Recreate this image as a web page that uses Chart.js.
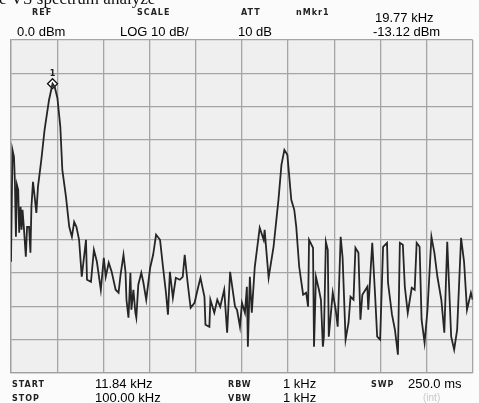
<!DOCTYPE html>
<html>
<head>
<meta charset="utf-8">
<script src="https://cdn.jsdelivr.net/npm/chart.js@4/dist/chart.umd.min.js"></script>
<style>
  html, body { margin: 0; padding: 0; background: #fbfbfb; overflow: hidden; }
  #wrap { position: relative; width: 479px; height: 403px; }
</style>
</head>
<body>
<div id="wrap"><canvas id="c" width="479" height="403"></canvas></div>
<script>
// Sweep settings
const startKHz = 11.84;
const stopKHz = 100.00;
const refDbm = 0;
const dbPerDiv = 10;
const divisions = 10;
const markerFreq = 19.77;
const markerLevel = -13.12;

// Trace: frequency (kHz) and level (dBm)
const freqKHz = [
  11.84, 12.12, 12.41, 12.59, 12.78, 12.97, 13.22, 13.40, 13.67, 13.86,
  14.04, 14.29, 14.67, 14.91, 15.29, 15.55, 15.74, 16.04, 16.36, 16.68,
  16.99, 17.63, 18.25, 19.10, 19.77, 20.19, 20.70, 21.26, 21.64, 22.34,
  22.96, 23.47, 23.90, 24.33, 24.84, 25.35, 26.16, 26.35, 27.11, 27.67,
  28.24, 28.99, 29.56, 29.93, 30.50, 31.06, 31.82, 32.38, 32.76, 33.32,
  33.70, 33.89, 34.27, 34.64, 34.83, 35.21, 35.59, 35.77, 36.15, 36.72,
  37.09, 37.66, 38.41, 38.98, 39.54, 40.30, 40.86, 41.43, 41.81, 42.18,
  42.75, 43.31, 44.07, 44.63, 45.01, 45.57, 45.95, 46.14, 46.89, 47.46,
  48.02, 48.78, 48.97, 49.72, 49.91, 50.66, 51.23, 51.79, 52.55, 53.11,
  53.68, 54.43, 54.62, 55.00, 55.56, 55.94, 56.51, 56.88, 57.07, 57.45,
  57.82, 58.39, 59.33, 60.09, 60.27, 61.03, 61.97, 62.91, 63.48, 64.04,
  64.61, 65.36, 65.93, 66.31, 66.87, 67.62, 68.19, 68.57, 68.75, 69.51,
  69.70, 70.07, 70.64, 71.02, 71.39, 71.58, 71.96, 72.33, 72.52, 73.28,
  73.84, 74.22, 74.79, 75.16, 75.73, 76.29, 76.67, 77.24, 77.61, 78.18,
  78.56, 78.93, 79.88, 80.06, 80.82, 81.38, 81.76, 82.32, 82.89, 83.64,
  83.83, 84.59, 85.15, 85.72, 86.09, 86.66, 87.04, 87.60, 88.36, 88.92,
  89.30, 89.86, 90.24, 90.81, 91.37, 92.12, 92.69, 93.26, 94.01, 94.58,
  95.14, 95.89, 96.46, 97.03, 97.78, 98.35, 98.91, 99.66, 100.00
];
const levelDbm = [
  -66.6, -33.0, -35.1, -42.9, -59.1, -43.5, -45.0, -57.9, -50.1, -57.0,
  -51.0, -56.1, -65.1, -56.1, -56.1, -63.9, -50.1, -42.6, -47.1, -51.9,
  -44.1, -36.0, -27.0, -18.0, -13.12, -14.1, -17.4, -26.1, -39.0, -47.1,
  -56.1, -59.1, -54.6, -56.1, -60.0, -71.1, -60.0, -72.0, -72.6, -63.0,
  -66.6, -75.0, -65.4, -71.1, -66.9, -69.6, -75.0, -75.9, -70.5, -64.5,
  -69.6, -78.0, -83.4, -69.9, -81.0, -75.0, -81.9, -83.4, -73.5, -69.9,
  -72.6, -78.0, -68.4, -64.5, -58.5, -60.0, -68.1, -75.9, -82.5, -69.6,
  -77.4, -71.4, -72.0, -71.1, -64.5, -72.9, -78.0, -80.4, -78.9, -75.0,
  -71.4, -77.1, -85.5, -86.1, -78.0, -81.9, -78.0, -80.1, -75.0, -87.9,
  -69.6, -78.0, -80.1, -81.0, -86.1, -78.9, -81.9, -74.1, -92.1, -71.1,
  -81.9, -68.1, -56.4, -60.0, -57.0, -71.4, -62.1, -48.0, -37.5, -33.0,
  -34.5, -48.0, -51.0, -56.1, -68.1, -76.5, -75.9, -80.1, -60.0, -62.4,
  -92.1, -71.1, -75.0, -78.0, -92.1, -89.1, -60.6, -63.0, -89.1, -75.9,
  -81.0, -86.1, -59.1, -65.4, -90.0, -84.9, -77.1, -78.0, -62.4, -63.9,
  -84.0, -76.5, -74.1, -81.0, -60.9, -77.1, -89.1, -90.0, -62.1, -60.9,
  -72.9, -82.5, -87.0, -94.5, -60.9, -61.5, -74.1, -81.9, -74.4, -75.0,
  -60.9, -62.1, -84.0, -90.9, -81.0, -59.1, -63.9, -71.1, -78.0, -87.9,
  -60.6, -89.1, -93.0, -87.0, -59.4, -66.6, -81.0, -75.9, -78.0
];

const fmtKHz = v => v.toFixed(2) + ' kHz';

// Annotation rows above and below the graticule
const headerLabels = [
  { text: 'REF', x: 32, y: 15 },
  { text: 'SCALE', x: 137, y: 15 },
  { text: 'ATT', x: 241, y: 15 },
  { text: 'nMkr1', x: 296, y: 15 }
];
const headerValues = [
  { text: refDbm.toFixed(1) + ' dBm', x: 17, y: 36 },
  { text: 'LOG ' + dbPerDiv + ' dB/', x: 120, y: 36 },
  { text: '10 dB', x: 238, y: 36 },
  { text: fmtKHz(markerFreq), x: 375, y: 22 },
  { text: markerLevel.toFixed(2) + ' dBm', x: 373, y: 36 }
];
const footerLabels = [
  { text: 'START', x: 12, y: 387 },
  { text: 'STOP', x: 12, y: 401 },
  { text: 'RBW', x: 228, y: 387 },
  { text: 'VBW', x: 228, y: 401 },
  { text: 'SWP', x: 371, y: 387 }
];
const footerValues = [
  { text: fmtKHz(startKHz), x: 95, y: 388 },
  { text: fmtKHz(stopKHz), x: 95, y: 402 },
  { text: '1 kHz', x: 283, y: 388 },
  { text: '1 kHz', x: 283, y: 402 },
  { text: '250.0 ms', x: 408, y: 388 }
];

const points = freqKHz.map((f, i) => ({ x: f, y: levelDbm[i] }));

function divisionTicks(scale) {
  const lo = scale.min, hi = scale.max;
  scale.ticks = Array.from({ length: divisions + 1 }, (_, i) => ({ value: lo + (hi - lo) * i / divisions }));
}

const panel = {
  id: 'panel',
  beforeDraw(chart) {
    const { ctx, chartArea: a } = chart;
    ctx.save();
    ctx.fillStyle = '#efefef';
    ctx.fillRect(a.left, a.top, a.right - a.left, a.bottom - a.top);
    ctx.restore();
  },
  afterDraw(chart) {
    const { ctx } = chart;
    ctx.save();
    ctx.textBaseline = 'alphabetic';
    ctx.textAlign = 'left';

    // partial caption line at the very top
    ctx.fillStyle = '#111';
    ctx.font = '17px "Liberation Serif"';
    ctx.fillText('e VS spectrum analyze', -1, 4);

    ctx.font = 'bold 8px "DejaVu Sans"';
    ctx.letterSpacing = '1px';
    ctx.fillStyle = '#222';
    headerLabels.concat(footerLabels).forEach(l => ctx.fillText(l.text, l.x, l.y));

    ctx.letterSpacing = '0px';
    ctx.font = '13px "Liberation Sans"';
    ctx.fillStyle = '#000';
    headerValues.concat(footerValues).forEach(l => ctx.fillText(l.text, l.x, l.y));

    ctx.font = '10px "Liberation Sans"';
    ctx.fillStyle = '#c8c8c8';
    ctx.fillText('(int)', 423, 401);

    // marker number above the diamond
    const xs = chart.scales.x, ys = chart.scales.y;
    const mx = xs.getPixelForValue(markerFreq), my = ys.getPixelForValue(markerLevel);
    ctx.font = 'bold 8px "DejaVu Sans"';
    ctx.fillStyle = '#222';
    ctx.textAlign = 'center';
    ctx.fillText('1', mx, my - 8);
    ctx.restore();
  }
};

new Chart(document.getElementById('c'), {
  type: 'line',
  data: {
    datasets: [
      {
        data: points,
        borderColor: '#262626',
        borderWidth: 1.8,
        pointRadius: 0,
        tension: 0,
        fill: false
      },
      {
        data: [{ x: markerFreq, y: markerLevel }],
        showLine: false,
        pointStyle: 'rectRot',
        pointRadius: 5,
        borderWidth: 1.3,
        borderColor: '#111',
        backgroundColor: '#ffffff'
      }
    ]
  },
  options: {
    responsive: false,
    animation: false,
    events: [],
    layout: { padding: { left: 11, top: 40, right: 1, bottom: 30 } },
    plugins: { legend: { display: false }, tooltip: { enabled: false } },
    scales: {
      x: {
        type: 'linear',
        min: startKHz,
        max: stopKHz,
        afterBuildTicks: divisionTicks,
        afterFit: s => { s.height = 0; },
        ticks: { display: false },
        grid: { color: '#a5a5a5', lineWidth: 1.3, drawTicks: false },
        border: { color: '#a0a0a0', width: 1.3 }
      },
      y: {
        type: 'linear',
        min: refDbm - dbPerDiv * divisions,
        max: refDbm,
        afterBuildTicks: divisionTicks,
        afterFit: s => { s.width = 0; },
        ticks: { display: false },
        grid: { color: '#a5a5a5', lineWidth: 1.3, drawTicks: false },
        border: { color: '#a0a0a0', width: 1.3 }
      }
    }
  },
  plugins: [panel]
});
</script>
</body>
</html>
